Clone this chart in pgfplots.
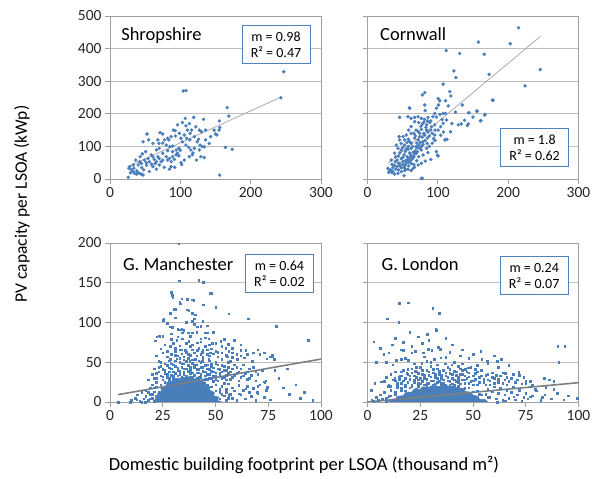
\documentclass[border=0pt]{standalone}
\usepackage{pgfplots}
\pgfplotsset{compat=1.18}
\usepackage{fontspec}
\setmainfont{Carlito}

\definecolor{dot}{HTML}{4A7EBB}
\definecolor{boxblue}{HTML}{4F81BD}
\definecolor{framec}{HTML}{A0A0A0}
\definecolor{gridc}{HTML}{BEBEBE}
\definecolor{trendlight}{HTML}{AAAAAA}
\definecolor{trenddark}{HTML}{7F7F7F}

\tikzset{
  ttl/.style={anchor=west, font=\fontsize{18.5}{19}\selectfont},
  stat/.style={draw=boxblue, fill=white, line width=0.9pt, align=center,
    minimum width=68pt, minimum height=38pt, inner sep=2pt,
    font=\fontsize{14}{16}\selectfont},
}
\pgfplotsset{
  panel/.style={
    scale only axis, width=211pt,
    axis line style={framec, line width=0.9pt},
    tick style={framec, line width=0.9pt},
    tick align=outside, major tick length=5pt,
    tick pos=left,
    ymajorgrids, grid style={gridc, line width=0.7pt},
    /pgf/number format/assume math mode=true,
    tick label style={font=\fontsize{15.5}{15.5}\selectfont, text=black!85},
  },
  toppanel/.style={panel, height=163pt, xmin=0, xmax=300, ymin=0, ymax=500,
    xtick={0,100,200,300}, ytick={0,100,...,500}},
  botpanel/.style={panel, height=159pt, xmin=0, xmax=100, ymin=0, ymax=200,
    xtick={0,25,50,75,100}, ytick={0,50,...,200}},
  bigdots/.style={only marks, mark=*, mark size=1.55pt, color=dot},
  smalldots/.style={only marks, mark=square*, mark size=0.8pt, color=dot},
}

\begin{document}
\begin{tikzpicture}
\useasboundingbox (0pt,0pt) rectangle (592pt,479pt);

% Shropshire
\begin{axis}[toppanel, at={(110pt,300pt)}, anchor=south west]
\addplot[bigdots] coordinates {
(247,329) (243,249) (104,270) (108,271) (166.7,219) (169,193) (173.7,91) (164,97) (156,12) (26,5)
(107,186) (119,189) (133,183) (96,166) (103,173) (108,163) (113,170) (110,150) (116,150) (90,150)
(93,148) (71,142) (75,138) (52.6,138) (47,114) (55,120) (61,109) (101,125) (103,114) (122,160)
(127,150) (130,145) (136,150) (120,130) (124,114) (128,104) (131,99) (148,150) (152,135) (155,150)
(156,158) (75,110) (80,104) (85,99) (89,101) (66,89) (70,94) (75,79) (82,87) (89,84) (94,89) (98,94)
(108,104) (112,97) (115,89) (120,94) (127,89) (134,66) (98,71) (101,50) (87,38) (77,36) (70,43)
(28,38) (30.5,28) (33,22) (35,17) (37.6,15) (40,19) (42,17) (44.6,15) (47,12) (29,19) (34,33)
(40,43) (42,53) (44.6,48) (49,58) (51.6,50) (54,63) (56,53) (58.7,74) (61,68) (63,60) (66,53)
(68,68.5) (70,63) (72.8,53) (75,58) (80,68.5) (82,58) (84.5,63) (87,53) (89,68.5) (91.5,60) (94,74)
(96,79) (43,68.5) (46,77) (50.7,84) (36.6,58) (33,43) (27,33) (105.6,58) (112.7,68.5) (117,74)
(123,58) (129,68.5) (134,99) (136,120) (141,109) (143,130) (105.6,135) (109,125) (113.6,120)
(98.6,140) (93,132) (87,130) (82,125) (61,38) (66,30) (56,23) (102,44) (92,36) (84.5,30) (69.5,109)
(77.5,120) (83.6,120) (68,120) (38,25) (45,35) (52,42) (59,45) (64,47) (48,28) (100,88) (118,80)
(126,122) (114,140) (155.5,178) (150,138)
};
\addplot[trendlight, line width=0.8pt] coordinates {(24.8,37.3) (242.6,250.7)};
\node[ttl] at (axis cs:11,440) {Shropshire};
\node[stat] at (axis cs:236,412) {m = 0.98\\R² = 0.47};
\end{axis}

% Cornwall
\begin{axis}[toppanel, at={(367.5pt,300pt)}, anchor=south west, yticklabels={}]
\addplot[bigdots] coordinates {
(214.8,464) (157.6,420) (202.9,415) (111.9,394) (131,385) (166,382.5) (122.9,331.5) (125.7,311)
(172.9,321) (245.7,335.6) (224,285.6) (178.6,241.7) (155.7,208) (166.7,196) (144,203) (160.5,178.5)
(142,164) (111,121) (99.5,73) (78,2) (52,10) (45.7,189) (59.5,218) (45,130)
(107.5,291) (117,268) (118.5,254.6) (78,258) (81.4,265) (100.4,247) (102.8,240) (111,240) (114.7,224)
(101,227) (98,217) (95.6,201) (93,191) (107.5,201) (111,201) (60,217) (81.4,227) (82,210) (57.5,191)
(62,186) (67,189) (72,191) (76.6,186) (81,183) (86,189) (67,176) (72.8,173) (78,169) (84,166)
(88.5,173) (62,160.5) (69,150) (76.6,152) (84,150) (74.2,140) (81.4,135) (91,160.5) (95.6,166)
(58.5,150) (55,135) (50.4,130) (52.8,120) (45.6,120) (48,109) (52.8,104) (60,114.5) (67,125) (72,120)
(79,114.5) (85,109) (40.9,104) (43.3,94) (48,89) (53.7,84) (57.5,91) (62,94) (69,99) (76.6,89) (84,94)
(38.5,79) (44.2,70.5) (50.4,66.5) (56.6,68.5) (61.4,73.6) (67,76.7) (72.8,68.5) (79,73.6) (86,81)
(98,84) (100.4,70.5) (33.7,58) (39.4,53) (45.6,48) (50.4,53) (53.7,43) (58.5,40) (62,48) (67,36)
(72,43) (76.6,48) (29,32.7) (31.4,25.6) (34.7,19.4) (38.5,15.3) (43.3,17.4) (48,22.5) (52.8,25.6)
(57.5,29.7) (62,25.6) (64.7,32.7) (76.6,2) (113,121.7) (110,119.6) (134.7,227) (144,203.5)
(155.6,208.6) (167,198) (161.4,179) (177.5,242) (133.3,168.7) (129,166) (143.3,168.7) (95.6,135)
(100.4,150) (104,160.5) (107.5,171) (112.3,181)
(30,20) (33,28) (36,24) (40,30) (42,38) (44,28) (46,40) (48,34) (50,44) (52,36) (54,56) (55,48)
(57,60) (58,52) (60,64) (61,56) (63,70) (64,62) (65,82) (66,68) (68,86) (69,78) (70,96) (71,84)
(73,104) (74,94) (75,112) (77,100) (78,128) (79,106) (80,140) (82,118) (83,158) (85,126) (86,144)
(88,132) (90,150) (92,140) (94,124) (96,150) (48,62) (52,74) (55,92) (58,100) (60,80) (62,110)
(64,100) (66,140) (68,132) (70,110) (72,146) (74,130) (76,162) (80,174) (85,178) (90,178) (98,190)
(103,198) (106,182) (42,58) (38,42) (36,35) (46,80) (50,96) (56,112) (88,100) (92,110) (96,118)
(104,134) (108,144) (90,60) (82,55) (70,56) (66,44) (54,30) (44,48) (40,68) (35,45) (62,140) (58,122)
(120,170) (125,205) (138,180) (150,190) (118,145)
};
\addplot[trendlight, line width=0.8pt] coordinates {(29.5,48.1) (246,437.8)};
\node[ttl] at (axis cs:13,444) {Cornwall};
\node[stat] at (axis cs:237.6,95.5) {m = 1.8\\R² = 0.62};
\end{axis}

% G. Manchester
\begin{axis}[botpanel, at={(110pt,77pt)}, anchor=south west]
\addplot[fill=dot, draw=dot, line width=0.6pt] coordinates {
(21,0) (21.5,5) (23,7) (22.5,11) (24.5,14) (24,18) (26.5,20) (27,25) (29.5,26) (30,30) (33,29)
(34,32) (36.5,30) (38,33) (40,29) (42,30) (43,26) (45.5,25) (45,21) (47.5,19) (47,15) (49.5,12)
(49,8) (51.5,6) (51,2) (53,0)} -- cycle;
\addplot[smalldots] coordinates {
(32.5,199) (32.9,152.8) (42,153) (44.1,150.7) (28.9,138) (29.5,134) (34,130) (36.5,129) (39.7,128)
(33,125.7) (48,137) (50,119) (30.5,116.5) (37.3,115) (56.3,111) (65.4,105) (25.4,104.8) (25.2,103)
(78.9,95.6) (94,78) (28.6,94.8) (29.3,94.8) (32,91.4) (34,91.4) (22.2,82) (23.3,83.5) (77,59) (76,57)
(73.8,26.7) (73.4,25) (70,20)
(29.8,132) (38.9,128.75) (33.3,123.75) (47.6,137) (44.1,122.5) (31,117) (28.6,112) (36.5,116)
(38.9,112) (40.5,110) (39,101.6) (40,97.5) (41.3,94.6) (42.9,95) (46,96) (29.4,94) (33,91) (34.1,87)
(37,87) (38.9,87) (45,87) (46.3,87) (21.4,77) (23.5,82) (25,82.9) (29,78.75) (31.7,77.5) (34.1,79.6)
(37.3,76.7) (41.3,74.6) (42.9,79.6) (46.8,79.6) (48.4,73.75) (52.4,76.7) (28.6,70) (31,68) (33.3,66)
(35.7,65) (38.1,70) (41.3,65) (43.7,62.5) (45.2,70) (47.6,62) (50,64) (54.8,68) (56.3,64) (57.9,62)
(61.9,65) (64.3,65) (23,51) (28.6,53.75) (31.7,54.6) (34.9,53) (37.8,51) (40.5,53.75) (43.7,51)
(46.8,53.75) (50,50.4) (53,53.75) (55.6,57) (57.1,51) (60.3,53.75) (63.5,55.8) (67.5,51) (74.3,54.6)
(77,57) (77.8,53.75) (65,28.75) (69,26.7) (73,25.4) (74.6,18.75) (69.8,12.5) (64.3,16.7) (61.1,10.4)
(56.3,8.3) (4,0) (9.5,0) (12.7,3) (15,0) (16.7,0)
(18,28) (20,35) (21,42) (22,30) (23,38) (24,45) (25,32) (26,40) (26,48) (27,35) (28,43) (28,30)
(29,48) (30,38) (30,33) (31,45) (32,29) (32,40) (33,50) (33,35) (34,44) (34,30) (35,38) (35,48)
(36,33) (36,42) (37,29) (37,46) (38,36) (38,40) (39,32) (39,49) (40,43) (40,28) (41,37) (41,47)
(42,31) (42,41) (43,35) (43,50) (44,28) (44,44) (45,38) (45,33) (46,47) (46,29) (47,41) (47,35)
(48,45) (48,30) (49,38) (50,33) (50,48) (51,27) (51,42) (52,36) (53,30) (53,46) (54,40) (55,34)
(55,28) (56,44) (57,38) (58,31) (59,47) (60,36) (61,27) (62,42) (63,33) (65,38) (66,30) (68,44)
(70,35) (72,40)
(22,58) (25,62) (27,57) (29,60) (31,64) (32,58) (34,61) (35,57) (36,63) (38,59) (39,66) (41,58)
(43,60) (44,56) (46,66) (47,58) (49,61) (51,57) (53,62) (55,59) (58,56) (60,60) (62,58) (68,62) (71,60)
(10,2) (12,5) (13,9) (14,1) (15,12) (16,4) (17,7) (17,15) (18,2) (19,10) (19,18) (20,5) (20,22)
(21,13) (21,1) (22,8) (22,19) (52,4) (52,12) (53,20) (54,8) (55,16) (55,2) (56,23) (57,10) (58,5)
(58,18) (59,14) (60,2) (61,21) (62,9) (63,15) (64,4) (65,20) (66,12) (67,7) (68,17) (69,2) (70,11)
(71,22) (73,6) (74,15) (76,3)
(24,22) (26,25) (28,26) (30,27) (31,24) (34,28) (36,27) (40,28) (42,26) (44,24) (46,22) (48,19)
(50,14) (27,20) (44,21) (80,30) (82,18) (85,10) (88,22) (90,5) (96,2) (78,40) (84,42) (92,12)
(21,30) (22,36) (23,44) (24,33) (24,50) (25,28) (25,41) (26,36) (27,46) (27,31) (28,38) (28,52)
(29,34) (29,42) (30,30) (30,47) (31,36) (31,52) (32,43) (32,33) (33,39) (33,55) (34,32) (34,48)
(35,42) (35,35) (36,51) (36,30) (37,39) (37,55) (38,44) (38,31) (39,37) (39,53) (40,46) (40,34)
(41,41) (41,30) (42,52) (42,37) (43,44) (43,31) (44,39) (44,54) (45,29) (45,46) (46,35) (46,42)
(47,52) (47,30) (48,39) (48,48) (49,33) (49,43) (50,37) (50,29) (51,47) (52,33) (52,41) (53,38)
(54,45) (54,31) (55,40) (56,36) (56,50) (57,29) (58,42) (59,34) (60,44) (61,38) (62,31) (63,47)
(64,36) (66,42) (67,34) (69,38)
(24,67) (26,72) (27,64) (29,86) (30,74) (31,59) (32,82) (33,71) (34,66) (35,90) (36,74) (37,60)
(38,83) (39,72) (40,62) (41,88) (42,68) (43,76) (44,65) (45,81) (46,60) (47,72) (48,67) (49,88)
(50,74) (51,63) (53,70) (54,79) (56,73) (58,68) (59,78) (62,72) (65,60) (70,66) (73,62) (36,100)
(40,105) (44,102) (31,106) (27,99)
(20,10) (21,18) (22,25) (23,12) (52,16) (53,10) (54,24) (50,22) (49,26) (19,4) (18,12) (55,12) (56,5)
};
\addplot[trenddark, line width=1.6pt] coordinates {(3.7,9.2) (100,54)};
\node[ttl] at (axis cs:4.5,174) {G. Manchester};
\node[stat] at (axis cs:80.3,161.5) {m = 0.64\\R² = 0.02};
\end{axis}

% G. London
\begin{axis}[botpanel, at={(367.5pt,77pt)}, anchor=south west, yticklabels={}]
\addplot[fill=dot, draw=dot, line width=0.6pt] coordinates {
(10,0) (11,3) (13.5,4) (14,7) (17,8) (18,12) (21,12.5) (22,16) (25,16) (26,19) (29,18.5) (31,21)
(34,19.5) (36,22) (39,19.5) (41,20.5) (43,17) (45.5,17) (46,13.5) (49,12) (50,8.5) (52.5,7) (53,3.5)
(56,2.5) (57,0)} -- cycle;
\addplot[smalldots] coordinates {
(15,124) (19.3,125) (30.9,118) (34,112) (9.2,105) (14.8,100) (32.4,92) (32.5,90) (28.3,85) (3.0,76)
(11.6,72) (90.2,70) (93.4,70) (90.7,50) (53.7,64) (99.5,4.7)
(15.8,66) (16.9,65) (7.7,60) (28.8,66.5) (33.6,69) (34.4,66.5) (39,63) (20.9,62) (22.5,64) (26.4,62)
(30.4,65) (31.6,53.5) (34.7,55.6) (4.2,49.9) (9,49.9) (13.7,52.5) (16.1,54) (19.3,52.5) (25.6,49)
(28,51) (36.7,48.4) (39.9,47) (43,45.4) (46.3,41) (47.8,43) (51,41) (54.2,53.5) (56.6,51) (61.4,51)
(63.4,53.5) (65.3,36.6) (71.7,37.5) (74.9,23.5) (77.2,19.4) (79.6,16.1) (83.6,30.3) (86,27.8)
(88.3,26) (88.3,16.1) (84.4,18.3) (82.8,6) (77.2,6.8) (74,6) (69.3,6.8) (65.3,1.7) (61.4,0)
(1.8,14.9) (3.4,23.4) (6.6,25.5) (9.8,19.5) (12.9,30.3) (15.3,33.3) (18.5,36.6) (22.5,38.6)
(10,22) (12,28) (14,24) (15,32) (16,38) (17,27) (18,22) (19,35) (20,29) (21,42) (22,25) (22,33)
(23,38) (24,28) (25,44) (25,23) (26,35) (27,30) (28,40) (28,24) (29,34) (30,27) (30,45) (31,37)
(32,23) (32,31) (33,42) (34,26) (34,35) (35,30) (36,40) (36,24) (37,33) (38,27) (38,44) (39,36)
(40,23) (40,30) (41,39) (42,26) (42,34) (43,29) (44,42) (44,23) (45,35) (46,28) (47,38) (48,24)
(48,32) (49,44) (50,27) (51,36) (52,22) (53,31) (54,40) (55,25) (56,34) (57,28) (58,22) (59,37)
(60,30) (62,25) (63,33) (65,28) (66,22) (68,30) (70,25) (72,34) (75,27) (78,22)
(2,3) (3,1) (4,6) (5,2) (6,9) (7,4) (8,12) (9,1) (10,7) (11,15) (12,3) (13,10) (14,18) (15,6)
(16,14) (18,19) (55,3) (56,10) (57,16) (58,6) (59,13) (60,19) (61,4) (62,11) (63,17) (64,2) (65,9)
(66,15) (67,5) (68,12) (69,19) (70,3) (71,9) (72,15) (73,1) (75,11) (76,4) (78,8) (80,14) (82,2)
(84,9) (87,4) (90,11) (93,3) (95,8)
(20,18) (24,20) (28,21) (31,22) (35,22) (39,21) (43,20) (46,17) (50,13) (53,10) (18,14) (23,16)
(12,47) (18,55) (22,48) (27,57) (30,50) (33,47) (37,56) (41,50) (45,48) (48,55) (52,46) (57,48)
(62,44) (67,46) (44,58) (6,68) (10,62) (13,80) (17,75) (21,70) (24,82) (26,74) (29,78) (20,88)
(37,80) (40,72) (45,66) (50,60) (60,58)
(8,26) (9,31) (11,20) (11,35) (13,27) (13,38) (14,21) (15,29) (16,24) (16,33) (17,40) (18,30)
(19,25) (19,41) (20,33) (21,22) (21,37) (22,28) (23,31) (23,44) (24,24) (24,36) (25,30) (26,26)
(26,40) (27,34) (27,22) (28,29) (29,38) (29,24) (30,32) (31,27) (31,41) (32,35) (33,25) (33,30)
(34,39) (35,24) (35,34) (36,28) (37,37) (37,22) (38,31) (39,26) (39,41) (40,35) (41,28) (41,22)
(42,38) (43,32) (43,25) (44,35) (45,28) (45,40) (46,24) (46,33) (47,30) (48,37) (49,26) (50,33)
(50,22) (51,29) (52,38) (53,25) (54,33) (55,29) (56,22) (57,35) (58,27) (59,31) (60,24) (61,34)
(62,29) (64,24) (64,37) (66,31) (67,26) (69,35) (71,28) (73,23) (74,31) (77,26)
(11,8) (13,13) (16,17) (21,19) (48,18) (52,14) (54,9) (57,6) (9,5)
};
\addplot[trenddark, line width=1.6pt] coordinates {(0,0) (100,24.3)};
\node[ttl] at (axis cs:5,174) {G. London};
\node[stat] at (axis cs:79,159) {m = 0.24\\R² = 0.07};
\end{axis}

\node[rotate=90, font=\fontsize{17.5}{17.5}\selectfont] at (22pt,275pt) {PV capacity per LSOA (kWp)};
\node[font=\fontsize{18.5}{18.5}\selectfont] at (304pt,14pt) {Domestic building footprint per LSOA (thousand m²)};
\end{tikzpicture}
\end{document}
